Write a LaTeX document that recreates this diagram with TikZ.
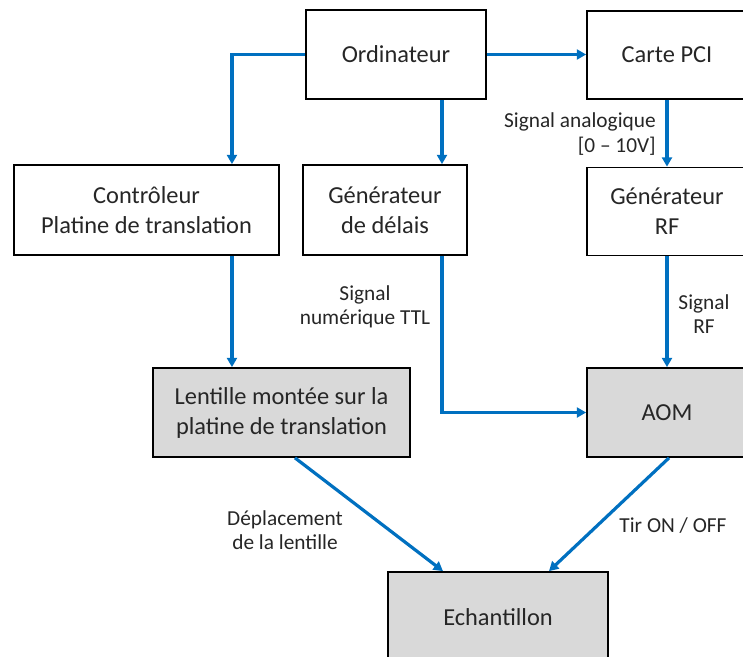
\documentclass[tikz,border=0pt]{standalone}
\usepackage{fontspec}
\setmainfont{Carlito}
\usetikzlibrary{arrows.meta}
\definecolor{linkblue}{RGB}{0,112,192}
\definecolor{boxgray}{RGB}{217,217,217}
\definecolor{textdark}{RGB}{38,38,38}
\tikzset{
  box/.style={rectangle, draw=black, line width=1.3pt, align=center,
    text=textdark, font=\fontsize{18.3}{22.5}\selectfont, inner sep=0pt},
  graybox/.style={box, fill=boxgray},
  boxsize/.style 2 args={minimum width=#1*0.75pt, minimum height=#2*0.75pt},
  arrow/.style={-{Triangle[length=7pt,width=7.5pt]}, line width=2.4pt, color=linkblue},
  sig/.style={font=\fontsize{16}{18.2}\selectfont, text=textdark, inner sep=0pt}
}

\begin{document}
\begin{tikzpicture}[x=0.75pt, y=-0.75pt]
  \useasboundingbox (0,0) rectangle (743,657);
  \clip (0,0) rectangle (743,657);

  % Boxes
  \node[box, boxsize={180}{89}] (ord) at (396,54.5) {Ordinateur};
  \node[box, boxsize={160}{88}] (pci) at (667,55) {Carte PCI};
  \node[box, boxsize={265}{90}] (ctrl) at (146.5,210) {Contrôleur\\Platine de translation};
  \node[box, boxsize={164}{90}] (gen) at (385,210) {Générateur\\de délais};
  \node[box, boxsize={160}{88}] (rf) at (667,211.5) {Générateur\\RF};
  \node[graybox, boxsize={257}{89}] (lens) at (281.5,412.5) {Lentille montée sur la\\platine de translation};
  \node[graybox, boxsize={160}{89}] (aom) at (667,412.5) {AOM};
  \node[graybox, boxsize={220}{90}] (ech) at (498,617) {Echantillon};

  % Connections
  \draw[arrow] (ord.west) -| ([xshift=64.1pt]ctrl.north);
  \draw[arrow] ([xshift=34.5pt]ord.south) -- ([xshift=34.5pt]ord.south |- gen.north);
  \draw[arrow] (ord.east) -- (ord.east -| pci.west);
  \draw[arrow] (pci.south) -- (rf.north);
  \draw[arrow] ([xshift=64.1pt]ctrl.south) -- ([xshift=64.1pt]ctrl.south |- lens.north);
  \draw[arrow] ([xshift=42.75pt]gen.south) |- (aom.west);
  \draw[arrow] (rf.south) -- (aom.north);
  \draw[arrow] ([xshift=10.1pt]lens.south) -- ([xshift=-41.25pt]ech.north);
  \draw[arrow] ([xshift=1.5pt]aom.south) -- ([xshift=38.25pt]ech.north);

  % Signal labels
  \node[sig, align=right, anchor=east] (lbana) at (656,134) {Signal analogique\\{[0 – 10V]}};
  \node[sig, align=center] (lbttl) at (365,307) {Signal\\numérique TTL};
  \node[sig, align=center] (lbrf) at (704,314) {Signal\\RF};
  \node[sig, align=center] (lbdep) at (285,530) {Déplacement\\de la lentille};
  \node[sig] (lbtir) at (673,526) {Tir ON / OFF};
\end{tikzpicture}
\end{document}
